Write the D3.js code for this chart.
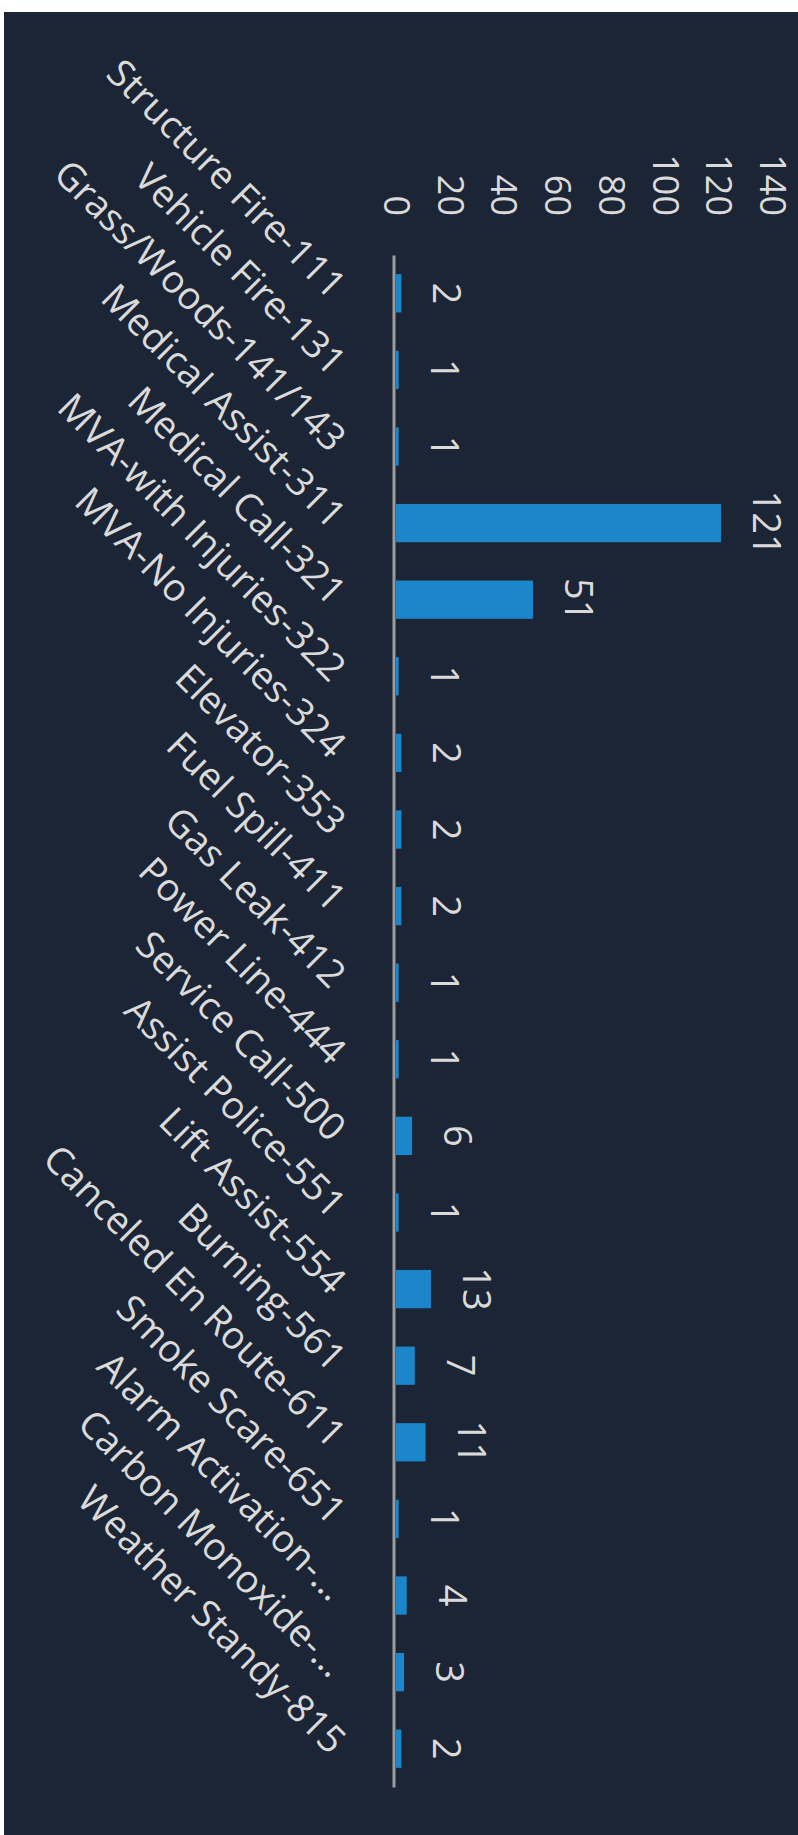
<!DOCTYPE html>
<meta charset="utf-8">
<style>
body { margin: 0; background: #fff; }
svg { display: block; }
.label, .tick text {
  fill: #dadada;
  font-family: "Open Sans", sans-serif;
  font-size: 38px;
}
.yaxis .tick text { font-size: 36px; }
</style>
<svg width="798" height="1835"></svg>
<script src="https://d3js.org/d3.v7.min.js"></script>
<script>

var categories = [
  "Structure Fire-111", "Vehicle Fire-131", "Grass/Woods-141/143", "Medical Assist-311",
  "Medical Call-321", "MVA-with Injuries-322", "MVA-No Injuries-324", "Elevator-353",
  "Fuel Spill-411", "Gas Leak-412", "Power Line-444", "Service Call-500",
  "Assist Police-551", "Lift Assist-554", "Burning-561", "Canceled En Route-611",
  "Smoke Scare-651", "Alarm Activation-…", "Carbon Monoxide-…", "Weather Standy-815"
];
var counts = [2, 1, 1, 121, 51, 1, 2, 2, 2, 1, 1, 6, 1, 13, 7, 11, 1, 4, 3, 2];
var valueTicks = [0, 20, 40, 60, 80, 100, 120, 140];

var svg = d3.select("svg"),
    W = +svg.attr("width"),
    H = +svg.attr("height");

// dark chart area (the scan has a white edge at top and left)
svg.append("rect")
    .attr("x", 4).attr("y", 12)
    .attr("width", W - 4).attr("height", H - 12)
    .attr("fill", "#1c2535");

// the chart is drawn as a normal column chart, then turned 90deg clockwise
var g = svg.append("g")
    .attr("transform", "translate(" + W + ",0) rotate(90)");

var x = d3.scaleBand()
    .domain(categories)
    .range([255, 1787])
    .paddingInner(0.5)
    .paddingOuter(0.25);

var y = d3.scaleLinear()
    .domain([0, 140])
    .range([402, 26]);

// value axis (no line, no gridlines)
var yAxis = g.append("g")
    .attr("class", "yaxis")
    .attr("transform", "translate(226,0)")
    .call(d3.axisLeft(y).tickValues(valueTicks).tickSize(0).tickPadding(10));
yAxis.select(".domain").remove();

// bars
g.selectAll(".bar")
  .data(counts)
  .enter().append("rect")
    .attr("class", "bar")
    .attr("x", function(d, i) { return x(categories[i]); })
    .attr("width", x.bandwidth())
    .attr("y", function(d) { return y(d); })
    .attr("height", function(d) { return y(0) - y(d); })
    .attr("fill", "#1c86cb");

// category axis
var xAxis = g.append("g")
    .attr("transform", "translate(0," + y(0) + ")")
    .call(d3.axisBottom(x).tickSize(0));
xAxis.select(".domain")
    .attr("stroke", "#9c9c9c")
    .attr("stroke-width", 3)
    .attr("transform", "translate(0,1.5)");
xAxis.selectAll(".tick text")
    .attr("x", 0).attr("y", 0)
    .attr("dy", "0.72em")
    .attr("text-anchor", "end")
    .attr("transform", "translate(-12,47) rotate(-45)");

// data labels
g.selectAll(".label")
  .data(counts)
  .enter().append("text")
    .attr("class", "label")
    .attr("x", function(d, i) { return x(categories[i]) + x.bandwidth() / 2; })
    .attr("y", function(d) { return y(d) - 32; })
    .attr("text-anchor", "middle")
    .text(function(d) { return d; });

</script>
